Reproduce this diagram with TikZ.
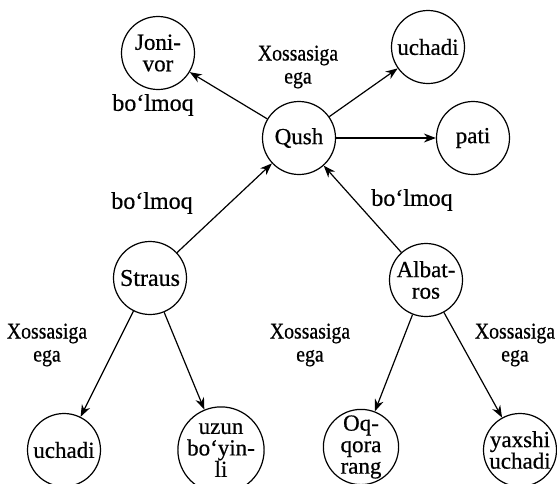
\documentclass[tikz,border=0pt]{standalone}
\usepackage{fontspec}
\setmainfont[FakeBold=0.6]{Liberation Serif}
\newfontfamily\condfont[FakeBold=0.6,FakeStretch=0.88]{Liberation Serif}
\usetikzlibrary{arrows.meta}
\tikzset{
  conc/.style={circle,draw,line width=1.2pt,minimum size=73pt,inner sep=0pt,align=center,
    font=\fontsize{23}{21.5}\selectfont},
  bigconc/.style={conc,font=\fontsize{24}{21.5}\selectfont},
  lbl/.style={align=center,font=\condfont\fontsize{22.5}{23}\selectfont,inner sep=0pt},
  widelbl/.style={lbl,font=\fontsize{24}{23}\selectfont},
  rel/.style={line width=1.2pt,-{Stealth[length=12pt,width=9pt]}}
}
\begin{document}
\begin{tikzpicture}[x=1pt,y=-1pt]
\clip (0,0) rectangle (557,483);
\useasboundingbox (0,0) rectangle (557,483);
\node[conc] (joni) at (158,53) {Joni-\\vor};
\node[conc] (uch1) at (428,47) {uchadi};
\node[conc] (qush) at (299,138) {Qush};
\node[conc] (pati) at (473,138) {pati};
\node[bigconc] (straus) at (150,278) {Straus};
\node[conc] (alb) at (426,280) {Albat-\\ros};
\node[conc] (uch2) at (64,450) {uchadi};
\node[conc] (uzun) at (221,450) {uzun\\bo‘yin-\\li};
\node[conc] (oq) at (361,447) {Oq-\\qora\\rang};
\node[conc] (yax) at (520,450) {yaxshi\\uchadi};
\node[lbl] (l1) at (298,67) {Xossasiga\\ega};
\node[widelbl] (l2) at (153,105) {bo‘lmoq};
\node[widelbl] (l3) at (152,203) {bo‘lmoq};
\node[widelbl] (l4) at (412,200) {bo‘lmoq};
\node[lbl] (l5) at (47,345) {Xossasiga\\ega};
\node[lbl] (l6) at (310,345) {Xossasiga\\ega};
\node[lbl] (l7) at (515,345) {Xossasiga\\ega};
\draw[rel] (qush) -- (joni);
\draw[rel] (qush) -- (uch1);
\draw[rel] (qush) -- (pati);
\draw[rel] (straus) -- (qush);
\draw[rel] (alb) -- (qush);
\draw[rel] (straus) -- (uch2);
\draw[rel] (straus) -- (uzun);
\draw[rel] (alb) -- (oq);
\draw[rel] (alb) -- (yax);
\end{tikzpicture}
\end{document}
